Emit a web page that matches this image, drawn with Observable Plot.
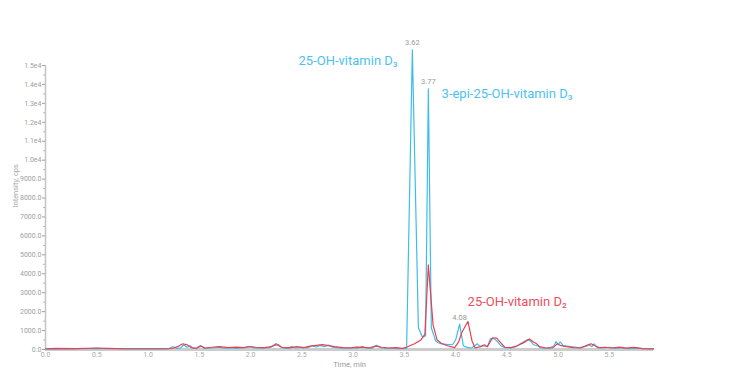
<!DOCTYPE html>
<html>
<head>
<meta charset="utf-8">
<script src="https://cdn.jsdelivr.net/npm/d3@7"></script>
<script src="https://cdn.jsdelivr.net/npm/@observablehq/plot@0.6"></script>
<style>
  html, body { margin: 0; padding: 0; background: #fff; }
</style>
</head>
<body>
<div id="chart"></div>
<script>
// Time (min) and intensity (cps) of the 25-OH-vitamin D3 channel (blue)
const blueTime = [0.00,0.20,0.40,0.50,0.60,0.80,1.00,1.15,1.20,1.24,1.28,1.32,1.35,1.38,1.41,1.44,1.48,1.52,1.56,1.62,1.68,1.74,1.80,1.86,1.92,1.98,2.02,2.06,2.12,2.18,2.23,2.27,2.31,2.36,2.40,2.44,2.50,2.56,2.60,2.64,2.68,2.72,2.76,2.80,2.86,2.92,2.98,3.04,3.09,3.13,3.18,3.23,3.27,3.32,3.38,3.44,3.50,3.522,3.578,3.637,3.675,3.707,3.734,3.763,3.805,3.824,3.863,3.912,3.968,4.00,4.039,4.075,4.114,4.156,4.212,4.24,4.28,4.31,4.34,4.38,4.41,4.44,4.48,4.54,4.59,4.63,4.70,4.73,4.76,4.80,4.83,4.91,4.96,4.98,5.00,5.02,5.05,5.12,5.20,5.27,5.30,5.33,5.35,5.38,5.43,5.51,5.56,5.63,5.68,5.76,5.85,5.93];
const blueIntensity = [20,30,40,60,40,30,30,30,40,150,60,90,250,120,200,60,80,180,60,80,120,70,100,60,90,150,110,70,100,80,200,260,90,60,150,80,110,90,200,130,220,150,230,120,90,70,100,70,160,80,60,220,100,60,80,50,40,60,15824,1146,670,723,13765,1146,460,370,300,270,250,500,1340,200,110,80,300,150,200,150,580,560,400,200,100,80,150,300,520,450,250,200,80,60,200,420,250,400,200,150,100,160,250,150,300,100,80,120,60,100,50,70,40,30];

// Time (min) and intensity (cps) of the 25-OH-vitamin D2 channel (red)
const redTime = [0.00,0.10,0.30,0.50,0.60,0.80,1.00,1.20,1.25,1.30,1.34,1.38,1.42,1.47,1.51,1.55,1.62,1.70,1.78,1.86,1.94,2.00,2.05,2.12,2.20,2.25,2.30,2.38,2.45,2.52,2.58,2.64,2.70,2.76,2.82,2.90,2.97,3.03,3.10,3.16,3.22,3.28,3.35,3.42,3.48,3.52,3.60,3.66,3.70,3.734,3.78,3.82,3.86,3.92,3.99,4.03,4.06,4.12,4.16,4.19,4.24,4.28,4.31,4.36,4.40,4.44,4.48,4.54,4.60,4.66,4.72,4.76,4.79,4.82,4.88,4.95,4.99,5.03,5.08,5.15,5.22,5.28,5.32,5.36,5.40,5.46,5.52,5.60,5.66,5.74,5.82,5.93];
const redIntensity = [40,60,50,80,60,40,40,40,80,180,300,250,100,60,200,80,120,150,100,130,100,160,120,90,150,300,120,90,150,100,180,220,260,200,150,100,80,130,110,90,180,120,80,100,60,120,300,500,800,4470,1300,500,330,200,100,400,900,1480,450,80,150,250,150,620,600,350,120,100,200,350,560,400,300,150,80,100,300,200,150,100,80,220,300,200,100,120,80,130,70,110,50,30];

// Axis ticks
const xTicks = [0,0.5,1.0,1.5,2.0,2.5,3.0,3.5,4.0,4.5,5.0,5.5];
const yTicks = [0,1000,2000,3000,4000,5000,6000,7000,8000,9000,10000,11000,12000,13000,14000,15000];
const yMinorTicks = [500,1500,2500,3500,4500,5500,6500,7500,8500,9500,10500,11500,12500,13500,14500];

// Peak labels (apex of the blue trace)
const peakLabels = ["3.62","3.77","4.08"];
const peakTime = [3.578,3.734,4.039];
const peakIntensity = [15824,13765,1340];

// Compound annotations
const compoundNames = ["25-OH-vitamin D\u2083","3-epi-25-OH-vitamin D\u2083","25-OH-vitamin D\u2082"];
const compoundTime = [3.434,3.863,4.117];
const compoundIntensity = [15243,13500,2534];

const blueColor = "#3dbdec";
const redColor = "#e8404f";

const blue = blueTime.map((t, i) => ({t, v: blueIntensity[i]}));
const red = redTime.map((t, i) => ({t, v: redIntensity[i]}));
const peaks = peakLabels.map((s, i) => ({s, t: peakTime[i], v: peakIntensity[i]}));
const compounds = compoundNames.map((s, i) => ({s, t: compoundTime[i], v: compoundIntensity[i]}));

const yFmt = d => d < 10000 ? d.toFixed(1) : (d / 10000).toFixed(1) + "e4";

const chart = Plot.plot({
  width: 750,
  height: 380,
  marginLeft: 45,
  marginRight: 97,
  marginTop: 65,
  marginBottom: 31,
  x: {domain: [0, 5.93]},
  y: {domain: [0, 15000]},
  style: {fontFamily: "Roboto, 'Noto Sans', sans-serif", background: "#fff"},
  marks: [
    Plot.ruleY([0], {stroke: "#cccccc", strokeWidth: 3}),
    Plot.ruleX([0], {stroke: "#c4c4c4", strokeWidth: 1.5}),
    Plot.axisY(yMinorTicks, {tickSize: 2, tickFormat: () => "", color: "#bbb", label: null}),
    Plot.axisY(yTicks, {tickSize: 3, tickPadding: 1, tickFormat: yFmt, fontSize: 7, color: "#a0a0a0", label: null}),
    Plot.axisX(xTicks, {tickSize: 0, tickPadding: 3, tickFormat: d => d.toFixed(1), fontSize: 7, color: "#aaaaaa", label: null}),
    Plot.text(["Time, min"], {frameAnchor: "bottom", dy: 17, fontSize: 7.5, fill: "#999"}),
    Plot.text(["Intensity, cps"], {frameAnchor: "left", dx: -30, rotate: -90, fontSize: 7.5, fill: "#aaa"}),
    Plot.line(blue, {x: "t", y: "v", stroke: blueColor, strokeWidth: 1.2}),
    Plot.line(red, {x: "t", y: "v", stroke: redColor, strokeWidth: 1.2}),
    Plot.text(peaks, {x: "t", y: "v", text: "s", dy: -7, fontSize: 7.5, fill: "#999"}),
    Plot.text(compounds.slice(0, 1), {x: "t", y: "v", text: "s", fontSize: 13, textAnchor: "end", fill: "#4cc2ef"}),
    Plot.text(compounds.slice(1, 2), {x: "t", y: "v", text: "s", fontSize: 13, textAnchor: "start", fill: "#4cc2ef"}),
    Plot.text(compounds.slice(2, 3), {x: "t", y: "v", text: "s", fontSize: 13, textAnchor: "start", fill: "#ec4d5c"})
  ]
});
document.getElementById("chart").appendChild(chart);
</script>
</body>
</html>
